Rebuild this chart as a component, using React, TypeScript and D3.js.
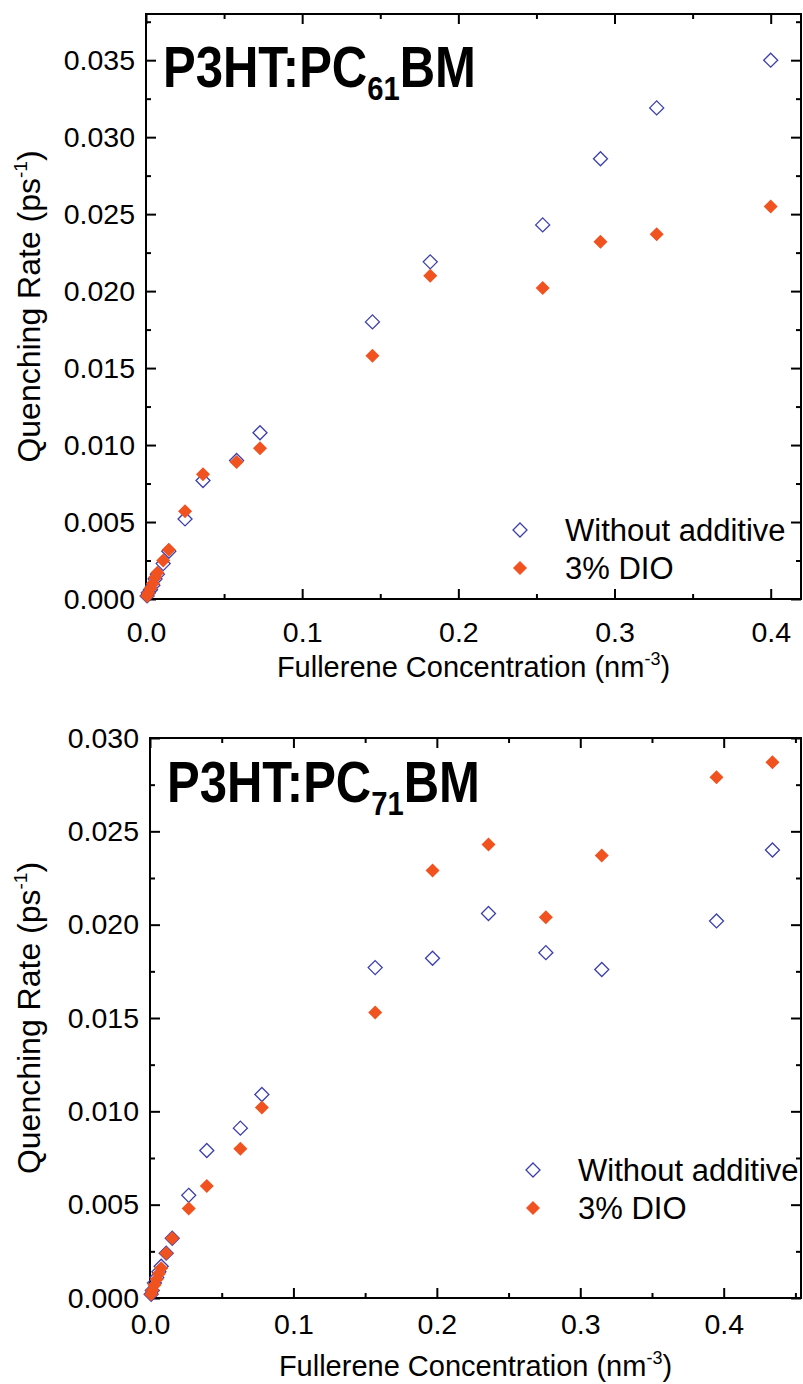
import React, { useEffect, useRef } from "react";
import * as d3 from "d3";

const W = 803;
const H = 1384;

// P3HT:PC61BM
const pc61Conc = [0.4, 0.327, 0.291, 0.254, 0.182, 0.145, 0.073, 0.058, 0.0365, 0.025, 0.0146, 0.011, 0.0073, 0.0058, 0.0044, 0.0029, 0.0015, 0.0007];
const pc61Without = [0.035, 0.0319, 0.0286, 0.0243, 0.0219, 0.018, 0.0108, 0.009, 0.0077, 0.0052, 0.0031, 0.0023, 0.0016, 0.0013, 0.0009, 0.0006, 0.0004, 0.0002];
const pc61DIO = [0.0255, 0.0237, 0.0232, 0.0202, 0.021, 0.0158, 0.0098, 0.0089, 0.0081, 0.0057, 0.0032, 0.0025, 0.0017, 0.0014, 0.001, 0.0007, 0.0004, 0.0002];

// P3HT:PC71BM
const pc71Conc = [0.434, 0.395, 0.315, 0.276, 0.236, 0.197, 0.157, 0.078, 0.063, 0.0396, 0.027, 0.0155, 0.0113, 0.0078, 0.0062, 0.0047, 0.0031, 0.0016, 0.0008];
const pc71Without = [0.024, 0.0202, 0.0176, 0.0185, 0.0206, 0.0182, 0.0177, 0.0109, 0.0091, 0.0079, 0.0055, 0.0032, 0.0024, 0.0017, 0.0014, 0.0011, 0.0008, 0.0004, 0.0002];
const pc71DIO = [0.0287, 0.0279, 0.0237, 0.0204, 0.0243, 0.0229, 0.0153, 0.0102, 0.008, 0.006, 0.0048, 0.0032, 0.0024, 0.0016, 0.0013, 0.001, 0.0007, 0.0004, 0.0002];

const xTicks = [0, 0.1, 0.2, 0.3, 0.4];
const xMinor = [0.05, 0.15, 0.25, 0.35, 0.45];
const yTicks61 = [0, 0.005, 0.01, 0.015, 0.02, 0.025, 0.03, 0.035];
const yTicks71 = [0, 0.005, 0.01, 0.015, 0.02, 0.025, 0.03];
const legendLabels = ["Without additive", "3% DIO"];

const FONT = "'Liberation Sans', Arial, Helvetica, sans-serif";
const OPEN = "#3b3fae";
const FILLED = "#f0531f";

const panels = [
  {
    sub: "61", conc: pc61Conc, without: pc61Without, dio: pc61DIO, yTicks: yTicks61,
    left: 146, right: 801, top: 14, bottom: 599, xMax: 0.4194, yMax: 0.038,
    legendX: 520, legendY: 530, xPad: 16, titleY: 73,
  },
  {
    sub: "71", conc: pc71Conc, without: pc71Without, dio: pc71DIO, yTicks: yTicks71,
    left: 150, right: 801, top: 738, bottom: 1298, xMax: 0.4539, yMax: 0.03,
    legendX: 533, legendY: 1170, xPad: 9, titleY: 64,
  },
];

function drawPanel(svg, p) {
  const x = d3.scaleLinear().domain([0, p.xMax]).range([p.left, p.right]);
  const y = d3.scaleLinear().domain([0, p.yMax]).range([p.bottom, p.top]);
  const g = svg.append("g");

  const yMinor = d3.range(0.0025, p.yMax, 0.005);
  const xMinorIn = xMinor.filter((v) => v <= p.xMax);

  // ticks on all four sides, pointing inwards
  const axes = [
    { a: d3.axisBottom(x), t: `translate(0,${p.bottom})` },
    { a: d3.axisTop(x), t: `translate(0,${p.top})` },
    { a: d3.axisLeft(y), t: `translate(${p.left},0)` },
    { a: d3.axisRight(y), t: `translate(${p.right},0)` },
  ];
  axes.forEach(({ a, t }, i) => {
    const isX = i < 2;
    const major = a.tickValues(isX ? xTicks : p.yTicks).tickSizeInner(-10).tickSizeOuter(0)
      .tickPadding(i === 0 ? p.xPad : 11);
    const gm = g.append("g").attr("transform", t).call(major);
    gm.select(".domain").remove();
    gm.selectAll("line").attr("stroke", "#000").attr("stroke-width", 2);
    if (i === 0) {
      gm.selectAll("text").attr("font-size", 28.5).attr("font-family", FONT).attr("fill", "#000")
        .text((d) => d3.format(".1f")(d)).attr("dy", "0.95em");
    } else if (i === 2) {
      gm.selectAll("text").attr("font-size", 28.5).attr("font-family", FONT).attr("fill", "#000")
        .text((d) => d3.format(".3f")(d));
    } else {
      gm.selectAll("text").remove();
    }
    const minorAxis = (i === 0 ? d3.axisBottom(x) : i === 1 ? d3.axisTop(x) : i === 2 ? d3.axisLeft(y) : d3.axisRight(y))
      .tickValues(isX ? xMinorIn : yMinor).tickSizeInner(-5).tickSizeOuter(0).tickFormat(() => "");
    const gn = g.append("g").attr("transform", t).call(minorAxis);
    gn.select(".domain").remove();
    gn.selectAll("line").attr("stroke", "#000").attr("stroke-width", 2);
  });

  g.append("rect")
    .attr("x", p.left).attr("y", p.top)
    .attr("width", p.right - p.left).attr("height", p.bottom - p.top)
    .attr("fill", "none").attr("stroke", "#000").attr("stroke-width", 2);

  const diamond = d3.symbol(d3.symbolDiamond2, 125);
  const pts = p.conc.map((c, i) => ({ c, w: p.without[i], d: p.dio[i] }));
  g.selectAll(".open").data(pts).enter().append("path")
    .attr("d", diamond)
    .attr("transform", (d) => `translate(${x(d.c)},${y(d.w)})`)
    .attr("fill", "none").attr("stroke", OPEN).attr("stroke-width", 1.3);
  g.selectAll(".filled").data(pts).enter().append("path")
    .attr("d", diamond)
    .attr("transform", (d) => `translate(${x(d.c)},${y(d.d)})`)
    .attr("fill", FILLED);

  // legend
  legendLabels.forEach((lab, i) => {
    const ly = p.legendY + i * 38;
    g.append("path").attr("d", diamond).attr("transform", `translate(${p.legendX},${ly})`)
      .attr("fill", i === 0 ? "none" : FILLED).attr("stroke", i === 0 ? OPEN : "none").attr("stroke-width", 1.3);
    g.append("text").attr("x", p.legendX + 45).attr("y", ly + 11)
      .attr("font-size", 31).attr("font-family", FONT).text(lab);
  });

  // panel title
  const title = g.append("text")
    .attr("transform", `translate(${p.left + 17},${p.top + p.titleY}) scale(0.86,1)`)
    .attr("font-family", FONT).attr("font-weight", "bold").attr("font-size", 57);
  title.append("tspan").text("P3HT:PC");
  title.append("tspan").attr("font-size", 34).attr("dy", 13).text(p.sub);
  title.append("tspan").attr("dy", -13).text("BM");

  // axis titles
  const xt = g.append("text").attr("x", (p.left + p.right) / 2).attr("y", p.bottom + 78)
    .attr("text-anchor", "middle").attr("font-family", FONT).attr("font-size", 29);
  xt.append("tspan").text("Fullerene Concentration (nm");
  xt.append("tspan").attr("font-size", 18).attr("dy", -12).text("-3");
  xt.append("tspan").attr("dy", 12).text(")");

  const yt = g.append("text")
    .attr("transform", `translate(40,${(p.top + p.bottom) / 2}) rotate(-90)`)
    .attr("text-anchor", "middle").attr("font-family", FONT).attr("font-size", 32);
  yt.append("tspan").text("Quenching Rate (ps");
  yt.append("tspan").attr("font-size", 19).attr("dy", -13).text("-1");
  yt.append("tspan").attr("dy", 13).text(")");
}

export default function App() {
  const ref = useRef(null);
  useEffect(() => {
    const svg = d3.select(ref.current);
    svg.selectAll("*").remove();
    panels.forEach((p) => drawPanel(svg, p));
  }, []);
  return (
    <svg ref={ref} width={W} height={H} style={{ position: "absolute", left: 0, top: 0, background: "#fff" }} />
  );
}
